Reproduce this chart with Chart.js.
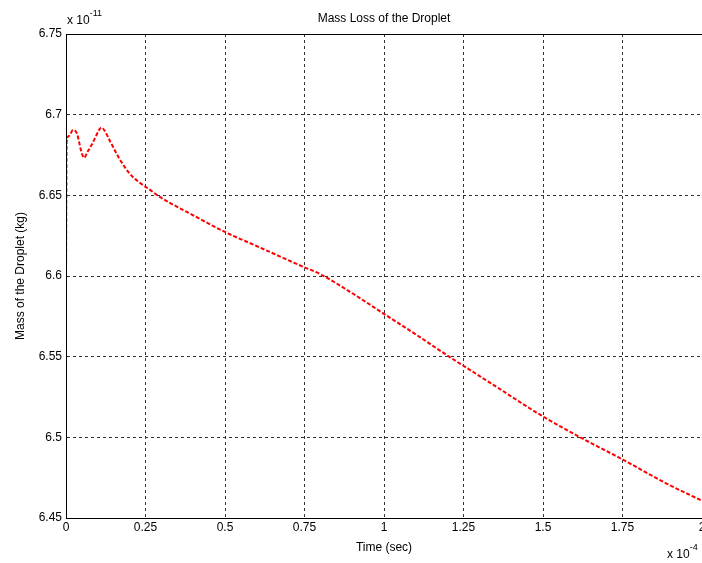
<!DOCTYPE html>
<html>
<head>
<meta charset="utf-8">
<script src="https://cdn.jsdelivr.net/npm/chart.js@4/dist/chart.umd.min.js"></script>
<style>
html,body{margin:0;padding:0;background:#fff;}
#wrap{width:702px;height:563px;position:relative;}
</style>
</head>
<body>
<div id="wrap"><canvas id="c" width="702" height="563"></canvas></div>
<script>
// Time in units of 1e-4 s
const times = [0, 0.002, 0.01, 0.022, 0.035, 0.047, 0.057, 0.068, 0.08, 0.095, 0.104, 0.111, 0.12, 0.14, 0.167, 0.2, 0.232, 0.26, 0.295, 0.389, 0.503, 0.599, 0.746, 0.799, 0.893, 1.001, 1.103, 1.208, 1.302, 1.344, 1.496, 1.617, 1.751, 1.890, 2.0];
// Mass in units of 1e-11 kg
const masses = [6.60, 6.683, 6.687, 6.6905, 6.688, 6.678, 6.6733, 6.677, 6.681, 6.687, 6.6905, 6.692, 6.6905, 6.683, 6.673, 6.6635, 6.6578, 6.654, 6.649, 6.6388, 6.627, 6.6186, 6.6057, 6.6012, 6.5902, 6.5764, 6.5634, 6.5496, 6.5378, 6.5325, 6.5134, 6.5000, 6.4862, 6.4712, 6.4607];
const xTicks = [0, 0.25, 0.5, 0.75, 1, 1.25, 1.5, 1.75, 2];
const yTicks = [6.45, 6.5, 6.55, 6.6, 6.65, 6.7, 6.75];
const titleText = "Mass Loss of the Droplet";
const xTitle = "Time (sec)";
const yTitle = "Mass of the Droplet (kg)";
const xExp = "-4";
const yExp = "-11";

const FONT = "'Liberation Sans', Arial, sans-serif";

const points = times.map((t, i) => ({x: t, y: masses[i]}));

const decor = {
  id: 'decor',
  afterDraw(chart) {
    const ctx = chart.ctx;
    const a = chart.chartArea;
    ctx.save();
    ctx.strokeStyle = '#000';
    ctx.lineWidth = 1;
    ctx.setLineDash([]);
    ctx.strokeRect(a.left + 0.5, a.top + 0.5, a.right - a.left, a.bottom - a.top);
    ctx.fillStyle = '#000';
    ctx.font = '12px ' + FONT;
    ctx.textAlign = 'center';
    ctx.textBaseline = 'alphabetic';
    ctx.fillText(titleText, (a.left + a.right) / 2, 22);
    // y exponent
    ctx.textAlign = 'left';
    ctx.font = '12px ' + FONT;
    ctx.fillText('x 10', a.left + 1, 24);
    const w1 = ctx.measureText('x 10').width;
    ctx.font = '9px ' + FONT;
    ctx.fillText(yExp, a.left + 1 + w1, 16);
    // x exponent
    ctx.font = '12px ' + FONT;
    ctx.fillText('x 10', 667, 558);
    const w2 = ctx.measureText('x 10').width;
    ctx.font = '9px ' + FONT;
    ctx.fillText(xExp, 667 + w2, 550);
    ctx.restore();
  }
};

new Chart(document.getElementById('c'), {
  type: 'line',
  data: {
    datasets: [{
      data: points,
      borderColor: '#ff0000',
      borderWidth: 2,
      borderDash: [4, 2],
      pointRadius: 0,
      fill: false,
      cubicInterpolationMode: 'monotone'
    }]
  },
  options: {
    responsive: false,
    animation: false,
    devicePixelRatio: 1,
    layout: {padding: {top: 34, right: 0, left: 0, bottom: 0}},
    plugins: {legend: {display: false}, tooltip: {enabled: false}, title: {display: false}},
    scales: {
      x: {
        type: 'linear',
        min: 0, max: 2,
        afterBuildTicks(scale) { scale.ticks = xTicks.map(v => ({value: v})); },
        afterFit(scale) { scale.height = 45; scale.paddingLeft = 0; scale.paddingRight = 0; },
        ticks: {
          color: '#000',
          font: {family: FONT, size: 12},
          padding: 2,
          maxRotation: 0,
          autoSkip: false,
          callback: v => String(Number(v.toFixed(2)))
        },
        grid: {
          color: '#333',
          lineWidth: 1,
          drawTicks: false,
          tickLength: 0
        },
        border: {display: true, color: '#000', dash: [3, 3]},
        title: {
          display: true,
          text: xTitle,
          color: '#000',
          font: {family: FONT, size: 12},
          padding: {top: 0, bottom: 8}
        }
      },
      y: {
        type: 'linear',
        min: 6.45, max: 6.75,
        afterBuildTicks(scale) { scale.ticks = yTicks.map(v => ({value: v})); },
        afterFit(scale) { scale.width = 66; scale.paddingTop = 0; scale.paddingBottom = 0; },
        ticks: {
          color: '#000',
          font: {family: FONT, size: 12},
          padding: 4,
          autoSkip: false,
          callback: v => String(Number(v.toFixed(2)))
        },
        grid: {
          color: '#333',
          lineWidth: 1,
          drawTicks: false,
          tickLength: 0
        },
        border: {display: true, color: '#000', dash: [3, 3]},
        title: {
          display: true,
          text: yTitle,
          color: '#000',
          font: {family: FONT, size: 12},
          padding: {top: 13, bottom: 0}
        }
      }
    }
  },
  plugins: [decor]
});
</script>
</body>
</html>
